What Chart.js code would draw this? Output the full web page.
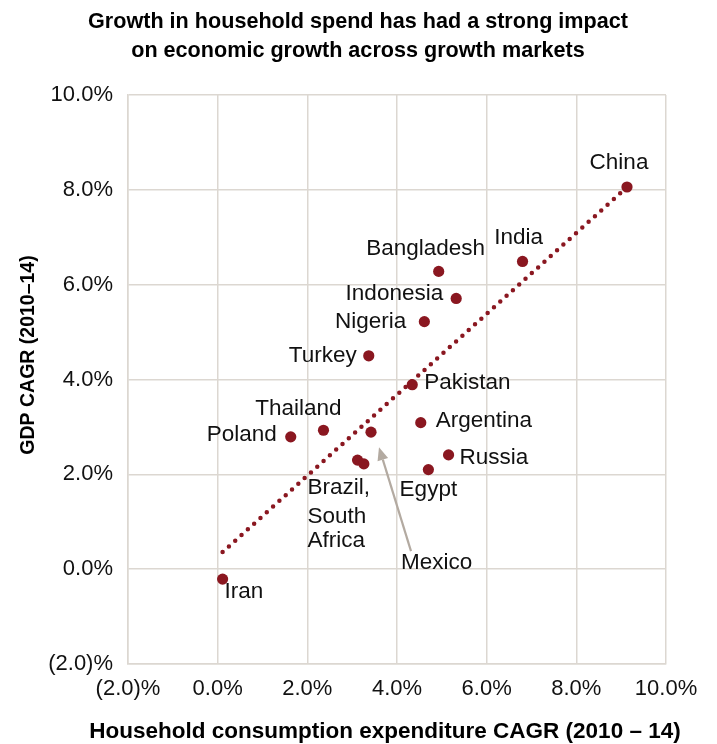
<!DOCTYPE html>
<html>
<head>
<meta charset="utf-8">
<script src="https://cdn.jsdelivr.net/npm/chart.js@4/dist/chart.umd.min.js"></script>
<style>
html,body{margin:0;padding:0;background:#fff;}
#wrap{width:717px;height:744px;position:relative;}
</style>
</head>
<body>
<div id="wrap"><canvas id="c" width="717" height="744"></canvas></div>
<script>
// ---- data ----
const countries = ['China','India','Bangladesh','Indonesia','Nigeria','Turkey','Pakistan','Thailand','Poland','Mexico','Argentina','Russia','Brazil','South Africa','Egypt','Iran'];
const consumptionCAGR = [9.13, 6.80, 4.93, 5.32, 4.61, 3.37, 4.34, 2.36, 1.63, 3.42, 4.53, 5.15, 3.12, 3.26, 4.70, 0.11];
const gdpCAGR = [8.06, 6.49, 6.28, 5.71, 5.22, 4.50, 3.89, 2.93, 2.79, 2.89, 3.09, 2.41, 2.30, 2.22, 2.10, -0.21];
const pointLabels = ['China','India','Bangladesh','Indonesia','Nigeria','Turkey','Pakistan','Thailand','Poland','Mexico','Argentina','Russia','Brazil,\nSouth\nAfrica','','Egypt','Iran'];
const trendX = [0.11, 9.10];
const trendY = [0.36, 8.03];
const xTickValues = [-2, 0, 2, 4, 6, 8, 10];
const xTickLabels = ['(2.0)%', '0.0%', '2.0%', '4.0%', '6.0%', '8.0%', '10.0%'];
const yTickValues = [-2, 0, 2, 4, 6, 8, 10];
const yTickLabels = ['(2.0)%', '0.0%', '2.0%', '4.0%', '6.0%', '8.0%', '10.0%'];
const chartTitle = ['Growth in household spend has had a strong impact', 'on economic growth across growth markets'];
const xTitle = 'Household consumption expenditure CAGR (2010 \u2013 14)';
const yTitle = 'GDP CAGR (2010\u201314)';

// ---- styles ----
const RED = '#8a1720';
const GRID = '#dcd7d1';
const FONT = '"Liberation Sans", Arial, Helvetica, sans-serif';
const labelStyle = {
  'China':      {dx: -8,  dy: -24, align: 'center'},
  'India':      {dx: -4,  dy: -24, align: 'center'},
  'Bangladesh': {dx: -13, dy: -23, align: 'center'},
  'Indonesia':  {dx: -13, dy: -5,  align: 'right'},
  'Nigeria':    {dx: -18, dy: 0,   align: 'right'},
  'Turkey':     {dx: -12, dy: 0,   align: 'right'},
  'Pakistan':   {dx: 12,  dy: -2,  align: 'left'},
  'Thailand':   {dx: -25, dy: -21, align: 'center'},
  'Poland':     {dx: -14, dy: -2,  align: 'right'},
  'Argentina':  {dx: 15,  dy: -2,  align: 'left'},
  'Russia':     {dx: 11,  dy: 3,   align: 'left'},
  'Egypt':      {dx: 0,   dy: 20,  align: 'center'},
  'Brazil':     {dx: -50, dy: 28,  align: 'left', lineGap: [0, 29, 53]},
  'Mexico':     {dx: 30,  dy: 131, align: 'left', arrow: {x0: 40, y0: 119, x1: 8, y1: 15}},
  'Iran':       {dx: 2,   dy: 13,  align: 'left'}
};

const annot = {
  id: 'annot',
  afterDatasetsDraw(chart) {
    const ctx = chart.ctx;
    const xs = chart.scales.x, ys = chart.scales.y;
    ctx.save();
    ctx.fillStyle = '#111';
    ctx.textBaseline = 'middle';
    ctx.font = '22.5px ' + FONT;
    countries.forEach((c, i) => {
      const txt = pointLabels[i];
      if (!txt) return;
      const st = labelStyle[c];
      if (!st) return;
      const px = xs.getPixelForValue(consumptionCAGR[i]);
      const py = ys.getPixelForValue(gdpCAGR[i]);
      ctx.textAlign = st.align;
      const lines = txt.split('\n');
      lines.forEach((ln, k) => {
        const off = st.lineGap ? st.lineGap[k] : k * 26;
        ctx.fillText(ln, px + st.dx, py + st.dy + off);
      });
      if (st.arrow) {
        const a = st.arrow;
        const x0 = px + a.x0, y0 = py + a.y0, x1 = px + a.x1, y1 = py + a.y1;
        const ang = Math.atan2(y1 - y0, x1 - x0);
        const hl = 13, hw = 5.5;
        const bx = x1 - hl * Math.cos(ang), by = y1 - hl * Math.sin(ang);
        ctx.strokeStyle = '#b3aaa1';
        ctx.fillStyle = '#b3aaa1';
        ctx.lineWidth = 2.2;
        ctx.beginPath(); ctx.moveTo(x0, y0); ctx.lineTo(bx, by); ctx.stroke();
        ctx.beginPath();
        ctx.moveTo(x1, y1);
        ctx.lineTo(bx + hw * Math.sin(ang), by - hw * Math.cos(ang));
        ctx.lineTo(bx - hw * Math.sin(ang), by + hw * Math.cos(ang));
        ctx.closePath(); ctx.fill();
        ctx.fillStyle = '#111';
      }
    });
    // titles
    ctx.fillStyle = '#000';
    ctx.textAlign = 'center';
    ctx.font = 'bold 21.6px ' + FONT;
    ctx.fillText(chartTitle[0], 358, 22);
    ctx.fillText(chartTitle[1], 358, 51);
    ctx.font = 'bold 22.5px ' + FONT;
    ctx.fillText(xTitle, 385, 732);
    ctx.font = 'bold 19.5px ' + FONT;
    ctx.save();
    ctx.translate(29, 355);
    ctx.rotate(-Math.PI / 2);
    ctx.fillText(yTitle, 0, 0);
    ctx.restore();
    ctx.restore();
  }
};

new Chart(document.getElementById('c'), {
  data: {
    datasets: [
      {
        type: 'line',
        data: trendX.map((x, i) => ({x: x, y: trendY[i]})),
        borderColor: RED,
        borderWidth: 4.5,
        borderDash: [0, 8.5],
        borderCapStyle: 'round',
        pointRadius: 0,
        fill: false,
        order: 2
      },
      {
        type: 'scatter',
        data: consumptionCAGR.map((x, i) => ({x: x, y: gdpCAGR[i]})),
        backgroundColor: RED,
        borderColor: RED,
        pointRadius: 5.6,
        pointBorderWidth: 0,
        order: 1
      }
    ]
  },
  options: {
    responsive: false,
    animation: false,
    devicePixelRatio: 1,
    layout: {padding: {left: 0, top: 95, right: 51, bottom: 0}},
    plugins: {legend: {display: false}, tooltip: {enabled: false}, title: {display: false}},
    scales: {
      x: {
        type: 'linear', min: -2, max: 10,
        afterBuildTicks: s => { s.ticks = xTickValues.map(v => ({value: v})); },
        afterFit: s => { s.height = 80; },
        grid: {color: GRID, lineWidth: 1.5, drawTicks: false},
        border: {color: GRID, width: 1.5},
        ticks: {
          padding: 12, color: '#111', font: {family: FONT, size: 22},
          callback: (v) => { const i = xTickValues.indexOf(v); return i >= 0 ? xTickLabels[i] : ''; },
          maxRotation: 0, autoSkip: false
        }
      },
      y: {
        type: 'linear', min: -2, max: 10,
        afterBuildTicks: s => { s.ticks = yTickValues.map(v => ({value: v})); },
        afterFit: s => { s.width = 128; },
        grid: {color: GRID, lineWidth: 1.5, drawTicks: false},
        border: {color: GRID, width: 1.5},
        ticks: {
          padding: 15, color: '#111', font: {family: FONT, size: 22},
          callback: (v) => { const i = yTickValues.indexOf(v); return i >= 0 ? yTickLabels[i] : ''; },
          autoSkip: false
        }
      }
    }
  },
  plugins: [annot]
});
</script>
</body>
</html>
